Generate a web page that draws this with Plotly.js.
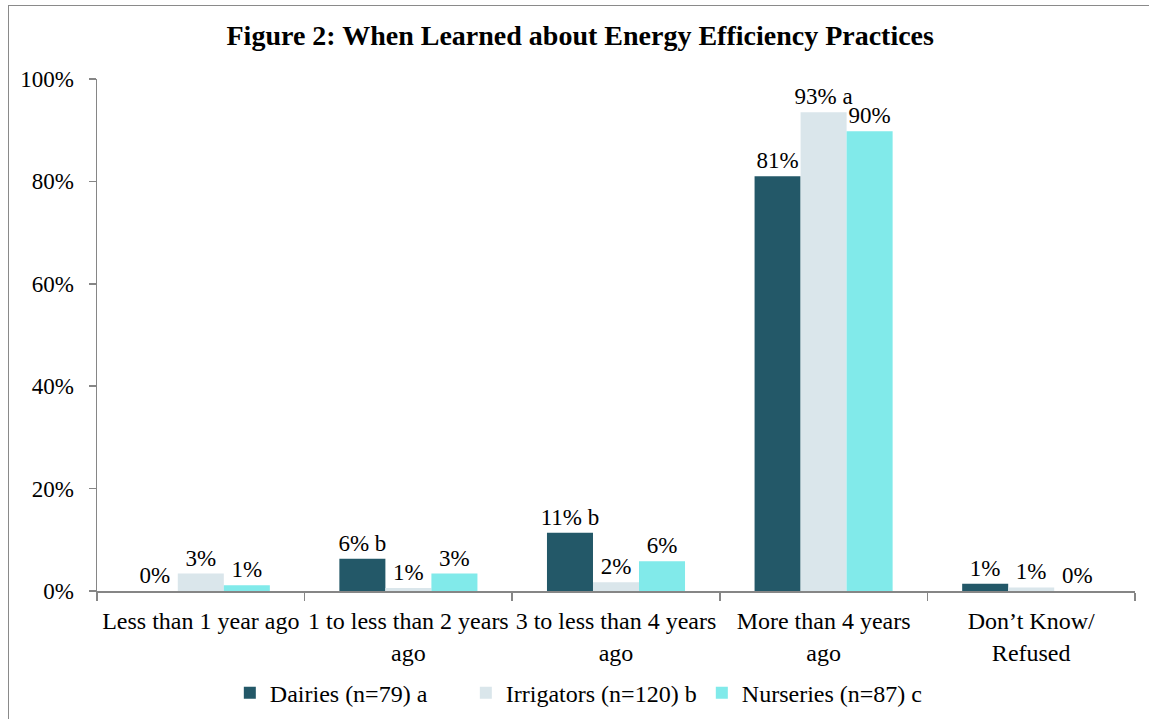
<!DOCTYPE html>
<html>
<head>
<meta charset="utf-8">
<script src="https://cdn.plot.ly/plotly-3.0.1.min.js"></script>
<style>
  html, body { margin: 0; padding: 0; background: #fff; }
  #wrap { position: relative; width: 1149px; height: 719px; overflow: hidden; }
  #chart { width: 1149px; height: 719px; }
  #frame { position: absolute; left: 8px; top: 5px; width: 1150px; height: 730px;
           border: 1px solid #8a8a8a; pointer-events: none; box-sizing: border-box; }
</style>
</head>
<body>
<div id="wrap">
  <div id="chart"></div>
  <div id="frame"></div>
</div>
<script>
// Categories (x axis)
const categories = [
  "Less than 1 year ago",
  "1 to less than 2 years<br>ago",
  "3 to less than 4 years<br>ago",
  "More than 4 years<br>ago",
  "Don\u2019t Know/<br>Refused"
];

// Series names
const seriesNames = ["Dairies (n=79) a", "Irrigators (n=120) b", "Nurseries (n=87) c"];

// Values (percent)
const dairies    = [0,   6.3, 11.4, 81.0, 1.4];
const irrigators = [3.4, 0.6, 1.7,  93.5, 0.7];
const nurseries  = [1.1, 3.4, 5.8,  89.8, 0];

// Data labels
const dairiesLabels    = ["0%", "6% b", "11% b", "81%", "1%"];
const irrigatorsLabels = ["3%", "1%",   "2%",    "93% a", "1%"];
const nurseriesLabels  = ["1%", "3%",   "6%",    "90%", "0%"];

// Y ticks
const yTickVals = [0, 20, 40, 60, 80, 100];
const yTickText = ["0%", "20%", "40%", "60%", "80%", "100%"];

const colors = ["#235868", "#dae6eb", "#81eaea"];
const font = "Liberation Serif";

function trace(name, vals, labels, color) {
  return {
    type: "bar",
    name: name,
    x: categories,
    y: vals,
    text: labels,
    textposition: "outside",
    textangle: 0,
    constraintext: "none",
    cliponaxis: false,
    textfont: { family: font, size: 23, color: "#000" },
    marker: { color: color, line: { width: 0 } },
    hoverinfo: "skip"
  };
}

const data = [
  trace(seriesNames[0], dairies, dairiesLabels, colors[0]),
  trace(seriesNames[1], irrigators, irrigatorsLabels, colors[1]),
  trace(seriesNames[2], nurseries, nurseriesLabels, colors[2])
];

const layout = {
  width: 1149,
  height: 719,
  margin: { l: 97, r: 14, t: 79, b: 128 },
  paper_bgcolor: "#fff",
  plot_bgcolor: "#fff",
  font: { family: font, size: 24, color: "#000" },
  title: {
    text: "<b>Figure 2: When Learned about Energy Efficiency Practices</b>",
    font: { family: font, size: 28, color: "#000" },
    x: 0.505, xanchor: "center",
    yref: "container",
    y: 0.951, yanchor: "middle"
  },
  barmode: "group",
  bargap: 0.335,
  bargroupgap: 0,
  showlegend: true,
  legend: {
    orientation: "h",
    x: 0.469, xanchor: "center",
    yref: "container",
    y: 0.036, yanchor: "middle",
    entrywidth: 191,
    entrywidthmode: "pixels",
    font: { family: font, size: 24, color: "#000" },
    traceorder: "normal"
  },
  xaxis: {
    type: "category",
    showline: true,
    linecolor: "#868686",
    linewidth: 1.5,
    ticks: "outside",
    tickson: "boundaries",
    ticklen: 8,
    tickcolor: "#868686",
    tickwidth: 1.5,
    tickangle: 0,
    ticklabelstandoff: 8,
    showgrid: false,
    zeroline: false,
    automargin: false,
    tickfont: { family: font, size: 24, color: "#000" },
    fixedrange: true
  },
  yaxis: {
    range: [0, 100],
    tickvals: yTickVals,
    ticktext: yTickText,
    showline: true,
    linecolor: "#868686",
    linewidth: 1.5,
    ticks: "outside",
    ticklen: 7,
    tickcolor: "#868686",
    tickwidth: 1.5,
    ticklabelstandoff: 10,
    showgrid: false,
    zeroline: false,
    automargin: false,
    tickfont: { family: font, size: 23, color: "#000" },
    fixedrange: true
  }
};

Plotly.newPlot("chart", data, layout, { displayModeBar: false, staticPlot: true });
</script>
</body>
</html>
